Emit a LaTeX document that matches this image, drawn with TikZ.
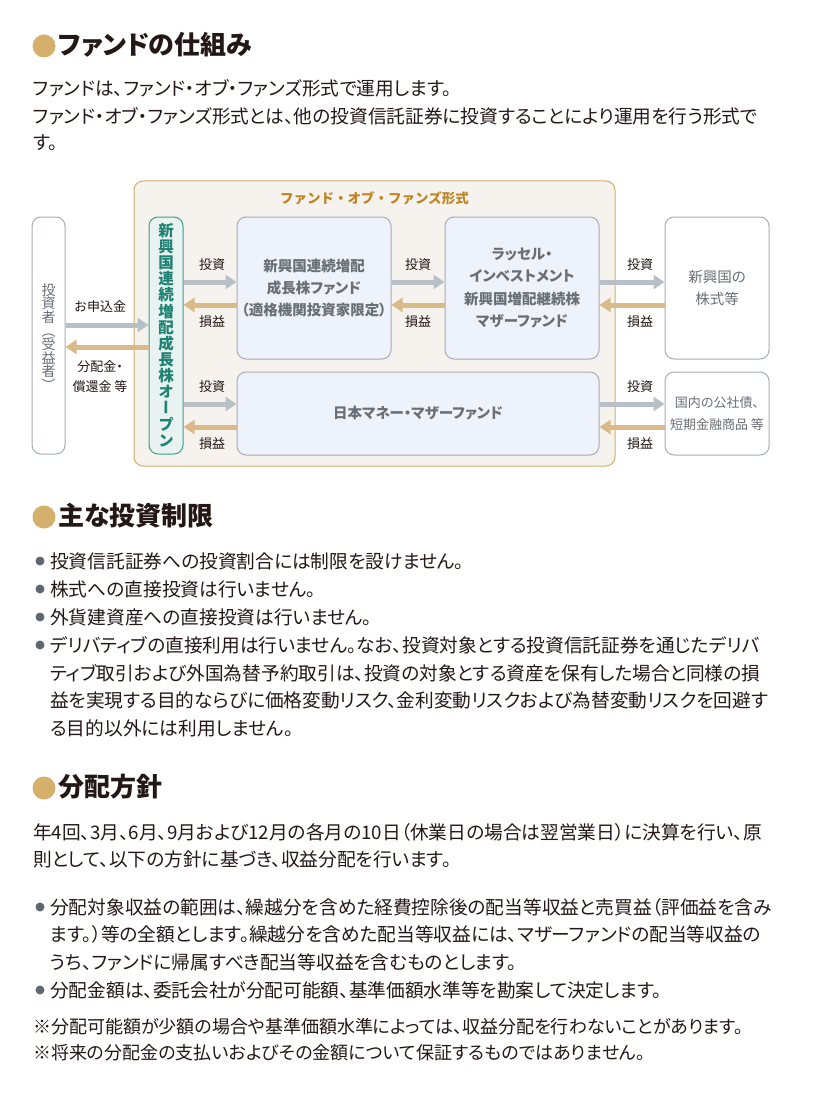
\documentclass[tikz,border=0pt]{standalone}
\usepackage{fontspec}
\newfontfamily\jp[RawFeature=+palt]{Noto Sans CJK JP}
\newfontfamily\jpf{Noto Sans CJK JP}
\newfontfamily\jpv[RawFeature=+vert]{Noto Sans CJK JP}
\usepackage{xcolor}
\definecolor{Ink}{HTML}{231815}
\definecolor{BoxGray}{HTML}{6A6E75}
\definecolor{EdgeGray}{HTML}{A7ADB5}
\definecolor{PaleBlue}{HTML}{EEF2FA}
\definecolor{FrameFill}{HTML}{F6F2EE}
\definecolor{FrameEdge}{HTML}{D6AE68}
\definecolor{TitleGold}{HTML}{BF8424}
\definecolor{FundTeal}{HTML}{1E8272}
\definecolor{FundEdge}{HTML}{3E9C8C}
\definecolor{FundFill}{HTML}{E7F2F1}
\definecolor{ArrGray}{HTML}{B9BFC6}
\definecolor{ArrTan}{HTML}{D9BA88}
\definecolor{DotGold}{HTML}{D4B06C}
\definecolor{DotGray}{HTML}{5F6770}
\usepackage{tikz}
\usetikzlibrary{arrows.meta,positioning,calc}

\begin{document}
\begin{tikzpicture}[x=1pt,y=-1pt,
txt/.style={anchor=west,inner sep=0pt,text=Ink,font=\jp\fontsize{18.7}{22}\selectfont},
note/.style={txt,font=\jp\fontsize{18}{22}\selectfont},
head/.style={anchor=west,inner sep=0pt,text=Ink,font=\jp\bfseries\fontsize{26}{30}\selectfont},
hdot/.style={circle,fill=DotGold,minimum size=23pt,inner sep=0pt},
ldot/.style={circle,fill=DotGray,minimum size=9pt,inner sep=0pt},
frame/.style={draw=FrameEdge,fill=FrameFill,rounded corners=9pt,line width=1pt},
fundbox/.style={draw=EdgeGray,fill=PaleBlue,rounded corners=9pt,line width=1pt,align=center,text=BoxGray,font=\jp\bfseries\fontsize{14.5}{22.4}\selectfont},
assetbox/.style={fundbox,fill=white,font=\jp\fontsize{14.5}{22.8}\selectfont},
lbl/.style={inner sep=0pt,text=Ink,font=\jpf\fontsize{13}{19}\selectfont,align=center},
inv/.style={draw=ArrGray,line width=5pt,-{Triangle[length=11pt,width=14pt]}},
ret/.style={draw=ArrTan,line width=5pt,-{Triangle[length=11pt,width=14pt]}}]
\useasboundingbox (0,0) rectangle (836,1094);

% --- heading 1
\node[hdot] (d1) at (44,46) {};
\node[head] (h1) at (58,45) {ファンドの仕組み};
\node[txt] (p1) at (33,88) {ファンドは、ファンド・オブ・ファンズ形式で運用します。};
\node[txt] (p2) at (33,116) {ファンド・オブ・ファンズ形式とは、他の投資信託証券に投資することにより運用を行う形式で};
\node[txt] (p3) at (33,143) {す。};

% --- scheme
\draw[frame] (134,181) rectangle (615,466);
\node[inner sep=0pt,text=TitleGold,font=\jpf\bfseries\fontsize{13.5}{16}\selectfont] (fof) at (374.5,198) {ファンド・オブ・ファンズ形式};
\node[draw=EdgeGray,fill=white,rounded corners=9pt,line width=1pt,minimum width=33pt,minimum height=237pt] (inv) at (48.5,335.5) {};
\node[inner sep=0pt,align=center,text=BoxGray,font=\jpv\fontsize{14}{13.6}\selectfont] (invtxt) at (48.5,337) {投\\資\\者\\︵\\受\\益\\者\\︶};
\node[draw=FundEdge,fill=FundFill,rounded corners=9pt,line width=1pt,minimum width=34pt,minimum height=237pt] (fund) at (166,335.5) {};
\node[inner sep=0pt,align=center,text=FundTeal,font=\jpv\bfseries\fontsize{15.5}{16.15}\selectfont] (fundtxt) at (166,335) {新\\興\\国\\連\\続\\増\\配\\成\\長\\株\\オ\\ー\\プ\\ン};
\node[fundbox,minimum width=154pt,minimum height=142pt] (emf) at (314,288) {新興国連続増配\\成長株ファンド\\（適格機関投資家限定）};
\node[fundbox,minimum width=154pt,minimum height=142pt] (rim) at (522,288) {ラッセル・\\インベストメント\\新興国増配継続株\\マザーファンド};
\node[fundbox,minimum width=362pt,minimum height=83pt] (jmm) at (418,413.5) {日本マネー・マザーファンド};
\node[assetbox,minimum width=104pt,minimum height=142pt] (eq) at (717,288) {新興国の\\株式等};
\node[assetbox,font=\jp\fontsize{13}{22}\selectfont,minimum width=104pt,minimum height=83pt] (bd) at (717,413.5) {国内の公社債、\\短期金融商品 等};

\draw[inv] (inv.east |- 0,325) -- (fund.west |- 0,325);
\draw[ret] (fund.west |- 0,347) -- (inv.east |- 0,347);
\node[lbl] (sub) at (100,307) {お申込金};
\node[lbl,font=\jp\fontsize{13}{19.5}\selectfont] (dist) at (100,376.5) {分配金・\\償還金 等};

\draw[inv] (fund.east |- 0,282) -- (emf.west |- 0,282);
\draw[ret] (emf.west |- 0,305) -- (fund.east |- 0,305);
\node[lbl] (i1) at (212,265) {投資};
\node[lbl] (r1) at (212,322) {損益};
\draw[inv] (emf.east |- 0,282) -- (rim.west |- 0,282);
\draw[ret] (rim.west |- 0,305) -- (emf.east |- 0,305);
\node[lbl] (i2) at (418,265) {投資};
\node[lbl] (r2) at (418,322) {損益};
\draw[inv] (rim.east |- 0,282) -- (eq.west |- 0,282);
\draw[ret] (eq.west |- 0,305) -- (rim.east |- 0,305);
\node[lbl] (i3) at (640,265) {投資};
\node[lbl] (r3) at (640,322) {損益};
\draw[inv] (fund.east |- 0,404) -- (jmm.west |- 0,404);
\draw[ret] (jmm.west |- 0,427) -- (fund.east |- 0,427);
\node[lbl] (i4) at (212,387) {投資};
\node[lbl] (r4) at (212,444) {損益};
\draw[inv] (jmm.east |- 0,404) -- (bd.west |- 0,404);
\draw[ret] (bd.west |- 0,427) -- (jmm.east |- 0,427);
\node[lbl] (i5) at (640,387) {投資};
\node[lbl] (r5) at (640,444) {損益};

% --- heading 2
\node[hdot] (d2) at (44,517) {};
\node[head] (h2) at (58,516) {主な投資制限};
\node[ldot] (b1) at (40,561) {};
\node[txt] (t1) at (50,561) {投資信託証券への投資割合には制限を設けません。};
\node[ldot] (b2) at (40,589) {};
\node[txt] (t2) at (50,589) {株式への直接投資は行いません。};
\node[ldot] (b3) at (40,617) {};
\node[txt] (t3) at (50,617) {外貨建資産への直接投資は行いません。};
\node[ldot] (b4) at (40,645) {};
\node[txt] (t4a) at (50,645) {デリバティブの直接利用は行いません。なお、投資対象とする投資信託証券を通じたデリバ};
\node[txt] (t4b) at (50,673) {ティブ取引および外国為替予約取引は、投資の対象とする資産を保有した場合と同様の損};
\node[txt] (t4c) at (50,700) {益を実現する目的ならびに価格変動リスク、金利変動リスクおよび為替変動リスクを回避す};
\node[txt] (t4d) at (50,728) {る目的以外には利用しません。};

% --- heading 3
\node[hdot] (d3) at (44,788) {};
\node[head] (h3) at (58,787) {分配方針};
\node[txt] (q1) at (33,832) {年4回、3月、6月、9月および12月の各月の10日（休業日の場合は翌営業日）に決算を行い、原};
\node[txt] (q2) at (33,859) {則として、以下の方針に基づき、収益分配を行います。};
\node[ldot] (b5) at (40,907) {};
\node[txt] (t5a) at (50,907) {分配対象収益の範囲は、繰越分を含めた経費控除後の配当等収益と売買益（評価益を含み};
\node[txt] (t5b) at (50,934) {ます。）等の全額とします。繰越分を含めた配当等収益には、マザーファンドの配当等収益の};
\node[txt] (t5c) at (50,962) {うち、ファンドに帰属すべき配当等収益を含むものとします。};
\node[ldot] (b6) at (40,990) {};
\node[txt] (t6) at (50,990) {分配金額は、委託会社が分配可能額、基準価額水準等を勘案して決定します。};
\node[note] (n1) at (33,1027) {※分配可能額が少額の場合や基準価額水準によっては、収益分配を行わないことがあります。};
\node[note] (n2) at (33,1053) {※将来の分配金の支払いおよびその金額について保証するものではありません。};
\end{tikzpicture}
\end{document}
